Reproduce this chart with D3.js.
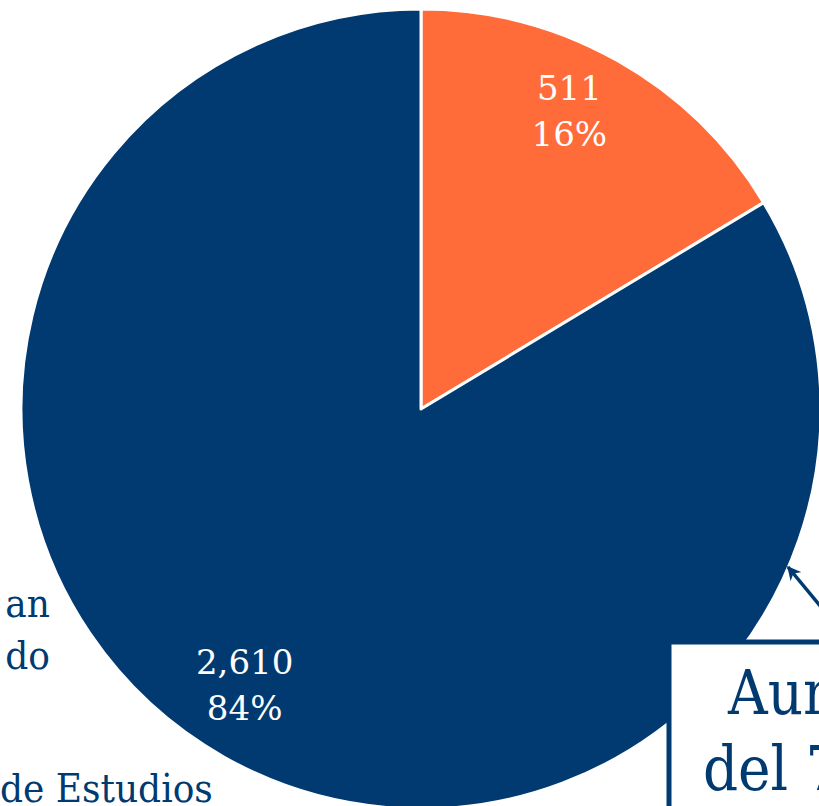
<!DOCTYPE html>
<html>
<head>
<meta charset="utf-8">
<script src="https://cdn.jsdelivr.net/npm/d3@7"></script>
<style>
  body { margin: 0; background: #fff; overflow: hidden; }
  svg { display: block; font-family: "DejaVu Serif Condensed", "DejaVu Serif", Georgia, serif; font-stretch: condensed; }
  .lbl { font-family: "DejaVu Serif", Georgia, serif; font-stretch: normal; }
</style>
</head>
<body>
<svg width="819" height="806"></svg>
<script>
const width = 819, height = 806;
const svg = d3.select("svg");

// data
const categories = ["Con dato", "Sin dato"];
const values = [511, 2610];
const percentLabels = ["16%", "84%"];
const colors = ["#FF6B39", "#003A70"];

// fragments of the legend that are cut off at the left edge
const legendLines = ["an", "do"];
const legendLast = "de Estudios";
// callout box (cut off at the right)
const calloutLines = ["Aumento", "del 7%"];

const cx = 421, cy = 409, radius = 400;

const pie = d3.pie().sort(null).value(d => d.value);
const arcs = pie(categories.map((c, i) => ({ name: c, value: values[i], pct: percentLabels[i], color: colors[i] })));

const arc = d3.arc().innerRadius(0).outerRadius(radius);
const labelArc = d3.arc().innerRadius(330).outerRadius(330);

const g = svg.append("g").attr("transform", `translate(${cx},${cy})`);

// slices
g.selectAll("path.slice")
  .data(arcs)
  .enter()
  .append("path")
  .attr("class", "slice")
  .attr("d", arc)
  .attr("fill", d => d.data.color)
  .attr("stroke", "#fff")
  .attr("stroke-width", 3)
  .attr("stroke-linejoin", "round");

// value + percent labels
const lbl = g.selectAll("text.lbl")
  .data(arcs)
  .enter()
  .append("text")
  .attr("class", "lbl")
  .attr("transform", d => {
    const [x, y] = labelArc.centroid(d);
    return `translate(${x - 14},${y - 22})`;
  })
  .attr("text-anchor", "middle")
  .attr("fill", "#fff")
  .attr("font-size", 34);
lbl.append("tspan").attr("x", 0).attr("y", 0).text(d => d3.format(",")(d.data.value));
lbl.append("tspan").attr("x", 0).attr("y", 46).text(d => d.data.pct);

// legend fragments on the left
svg.selectAll("text.leg")
  .data(legendLines)
  .enter()
  .append("text")
  .attr("class", "leg")
  .attr("x", 50)
  .attr("y", (d, i) => 617 + i * 52)
  .attr("text-anchor", "end")
  .attr("fill", "#003A70")
  .attr("font-size", 40)
  .text(d => d);
svg.append("text")
  .attr("x", 0)
  .attr("y", 802)
  .attr("fill", "#003A70")
  .attr("font-size", 40)
  .text(legendLast);

// callout arrow
svg.append("defs").append("marker")
  .attr("id", "arrow")
  .attr("viewBox", "0 -5 10 10")
  .attr("refX", 9)
  .attr("refY", 0)
  .attr("markerWidth", 4)
  .attr("markerHeight", 4)
  .attr("orient", "auto")
  .append("path")
  .attr("d", "M0,-5L10,0L0,5L3,0Z")
  .attr("fill", "#003A70");

svg.append("line")
  .attr("x1", 850).attr("y1", 642)
  .attr("x2", 788).attr("y2", 567)
  .attr("stroke", "#003A70")
  .attr("stroke-width", 3.5)
  .attr("marker-end", "url(#arrow)");

// callout box
svg.append("rect")
  .attr("x", 669)
  .attr("y", 642)
  .attr("width", 400)
  .attr("height", 300)
  .attr("fill", "#fff")
  .attr("stroke", "#003A70")
  .attr("stroke-width", 5);

svg.selectAll("text.callout")
  .data(calloutLines)
  .enter()
  .append("text")
  .attr("class", "callout")
  .attr("x", (d, i) => i === 0 ? 728 : 703)
  .attr("y", (d, i) => 714 + i * 76)
  .attr("fill", "#003A70")
  .attr("font-size", 61)
  .text(d => d);
</script>
</body>
</html>
